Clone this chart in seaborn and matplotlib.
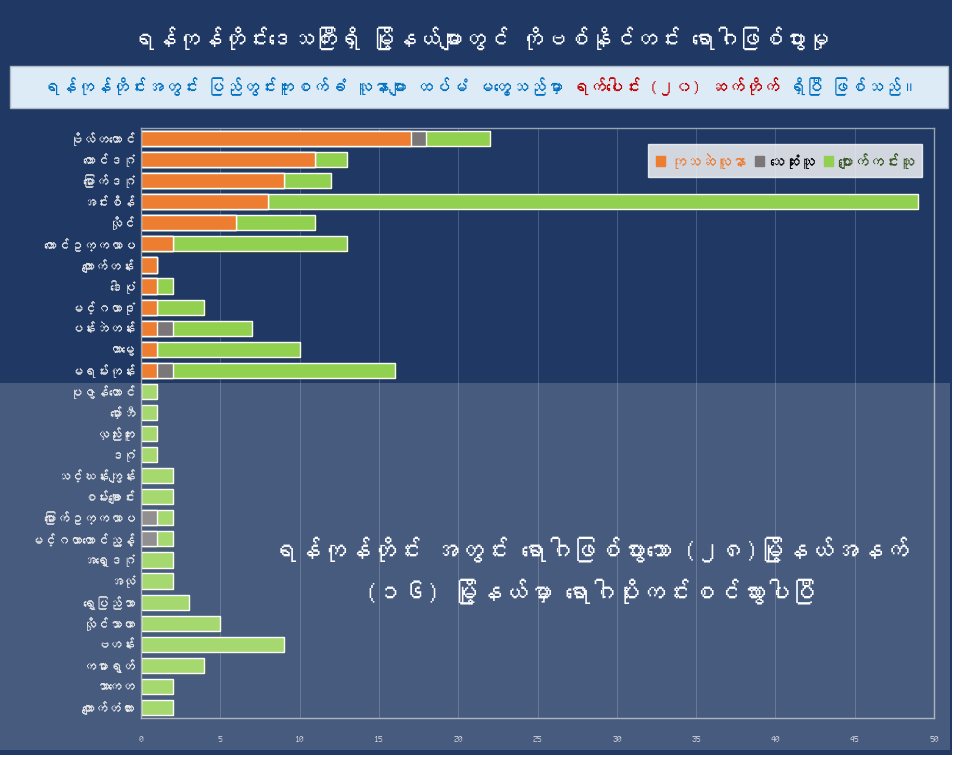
import matplotlib
matplotlib.use("Agg")
import matplotlib.pyplot as plt
import matplotlib.patheffects as pe
from matplotlib import font_manager
from matplotlib.ft2font import FT2Font
from matplotlib.patches import Rectangle
import pandas as pd
import seaborn as sns

# Data
townships = ['ဗိုလ်တထောင်', 'တောင်ဒဂုံ', 'မြောက်ဒဂုံ', 'အင်းစိန်', 'လှိုင်',
             'တောင်ဥက္ကလာပ', 'ကျောက်တန်း', 'ဒေါပုံ', 'မင်္ဂလာဒုံ', 'ပန်းဘဲတန်း',
             'တာမွေ', 'မရမ်းကုန်း', 'ပုဇွန်တောင်', 'မှော်ဘီ', 'လှည်းကူး', 'ဒဂုံ',
             'သင်္ဃန်းကျွန်း', 'စမ်းချောင်း', 'မြောက်ဥက္ကလာပ', 'မင်္ဂလာတောင်ညွန့်',
             'အရှေ့ဒဂုံ', 'အလုံ', 'ရွှေပြည်သာ', 'လှိုင်သာယာ', 'ဗဟန်း', 'ကမာရွတ်',
             'သာကေတ', 'ကျောက်တံတား']
active = [17, 11, 9, 8, 6, 2, 1, 1, 1, 1, 1, 1, 0, 0, 0, 0, 0, 0, 0, 0, 0, 0, 0, 0, 0, 0, 0, 0]
deaths = [1, 0, 0, 0, 0, 0, 0, 0, 0, 1, 0, 1, 0, 0, 0, 0, 0, 0, 1, 1, 0, 0, 0, 0, 0, 0, 0, 0]
recovered = [4, 2, 3, 41, 5, 11, 0, 1, 3, 5, 9, 14, 1, 1, 1, 1, 2, 2, 1, 1, 2, 2, 3, 5, 9, 4, 2, 2]

legend_labels = ['ကုသဆဲလူနာ', 'သေဆုံးသူ', 'ပျောက်ကင်းသူ']
title = 'ရန်ကုန်တိုင်းဒေသကြီးရှိ မြို့နယ်များတွင် ကိုဗစ်နိုင်တင်း ရောဂါဖြစ်ပွားမှု'
sub_parts = ['ရန်ကုန်တိုင်းအတွင်း ပြည်တွင်းကူးစက်ခံ လူနာများ ထပ်မံ မတွေ့သည်မှာ ',
             'ရက်ပေါင်း (၂၀) ဆက်တိုက်',
             ' ရှိပြီ ဖြစ်သည်။']
note = 'ရန်ကုန်တိုင်း အတွင်း ရောဂါဖြစ်ပွားသော (၂၈)မြို့နယ်အနက်\n(၁၆) မြို့နယ်မှာ ရောဂါပိုးကင်းစင်သွားပါပြီ'

df = pd.DataFrame({'town': townships, 'active': active, 'deaths': deaths, 'recovered': recovered})
df['ad'] = df['active'] + df['deaths']
df['total'] = df['ad'] + df['recovered']

# find a font that has Myanmar glyphs
mm_font = None
for f in font_manager.fontManager.ttflist:
    try:
        if 0x1000 in FT2Font(f.fname).get_charmap():
            mm_font = f.name
            break
    except Exception:
        pass

sns.set_style("white")
fams = [mm_font, 'DejaVu Sans'] if mm_font else ['DejaVu Sans']
plt.rcParams['font.family'] = fams

navy = '#1F3864'
orange = '#ED7D31'
gray = '#7B7778'
green = '#92D050'

fig = plt.figure(figsize=(9.6, 7.57), dpi=100, facecolor='white')
fig.patches.append(Rectangle((0, 2 / 757), 952 / 960, 755 / 757, transform=fig.transFigure,
                             facecolor=navy, edgecolor='none', zorder=-5))
ax = fig.add_axes([141 / 960, 1 - 718 / 757, 793 / 960, 590 / 757])
ax.set_facecolor(navy)

shadow = [pe.SimplePatchShadow(offset=(1.5, -1.5), alpha=0.5), pe.Normal()]
sns.barplot(data=df, x='total', y='town', color=green, saturation=1, width=0.72, ax=ax)
sns.barplot(data=df, x='ad', y='town', color=gray, saturation=1, width=0.72, ax=ax)
sns.barplot(data=df, x='active', y='town', color=orange, saturation=1, width=0.72, ax=ax)
for i, p in enumerate(ax.patches):
    if i < len(townships):
        p.set_path_effects(shadow)

ax.set_xlim(0, 50)
ax.set_xticks(range(0, 51, 5))
ax.set_xlabel('')
ax.set_ylabel('')
ax.grid(axis='x', color='#7888A2', linewidth=0.6, alpha=0.55)
ax.set_axisbelow(True)
ax.tick_params(axis='x', colors='#D8DCE4', labelsize=7, length=0, pad=12)
ax.tick_params(axis='y', colors='#E8E8E8', labelsize=9.5, length=0, pad=4)
for s in ax.spines.values():
    s.set_color('#9AA3B2')
    s.set_linewidth(1)

# legend box
handles = [Rectangle((0, 0), 1, 1, color=c) for c in (orange, gray, green)]
leg = ax.legend(handles, legend_labels, loc='upper right', bbox_to_anchor=(0.995, 0.985), ncol=3,
                frameon=True, fancybox=False, fontsize=11, handlelength=0.6, handleheight=0.6,
                handletextpad=0.3, columnspacing=0.6, borderpad=0.55)
leg.get_frame().set_facecolor('white')
leg.get_frame().set_edgecolor('white')
for t, c in zip(leg.get_texts(), (orange, 'black', '#375623')):
    t.set_color(c)
    t.set_fontweight('bold')

# title and subtitle
fig.text(0.5, 1 - 38 / 757, title, ha='center', va='center', color='white', fontsize=16.5, fontweight='bold')
fig.patches.append(Rectangle((10 / 960, 1 - 108 / 757), 938 / 960, 42 / 757, transform=fig.transFigure,
                             facecolor='#DDEBF7', edgecolor='#B0B8C4', linewidth=1, zorder=1))
renderer = fig.canvas.get_renderer()
sub_cols = ['#0070C0', '#C00000', '#0070C0']
pieces = [fig.text(0, 1 - 87 / 757, s, ha='left', va='center', color=c, fontsize=12.5, fontweight='bold', zorder=3)
          for s, c in zip(sub_parts, sub_cols)]
widths = [t.get_window_extent(renderer).width / fig.bbox.width for t in pieces]
x0 = 0.5 - sum(widths) / 2
for t, w in zip(pieces, widths):
    t.set_x(x0)
    x0 += w

# lighter lower panel
fig.patches.append(Rectangle((0, 1 - 750 / 757), 950 / 960, 367 / 757, transform=fig.transFigure,
                             facecolor='white', alpha=0.18, edgecolor='none', zorder=2))
fig.text(590 / 960, 1 - 570 / 757, note, ha='center', va='center', color='white', fontsize=18,
         fontweight='bold', linespacing=1.7, zorder=3)

fig.savefig('out.png', dpi=100, facecolor=fig.get_facecolor())
